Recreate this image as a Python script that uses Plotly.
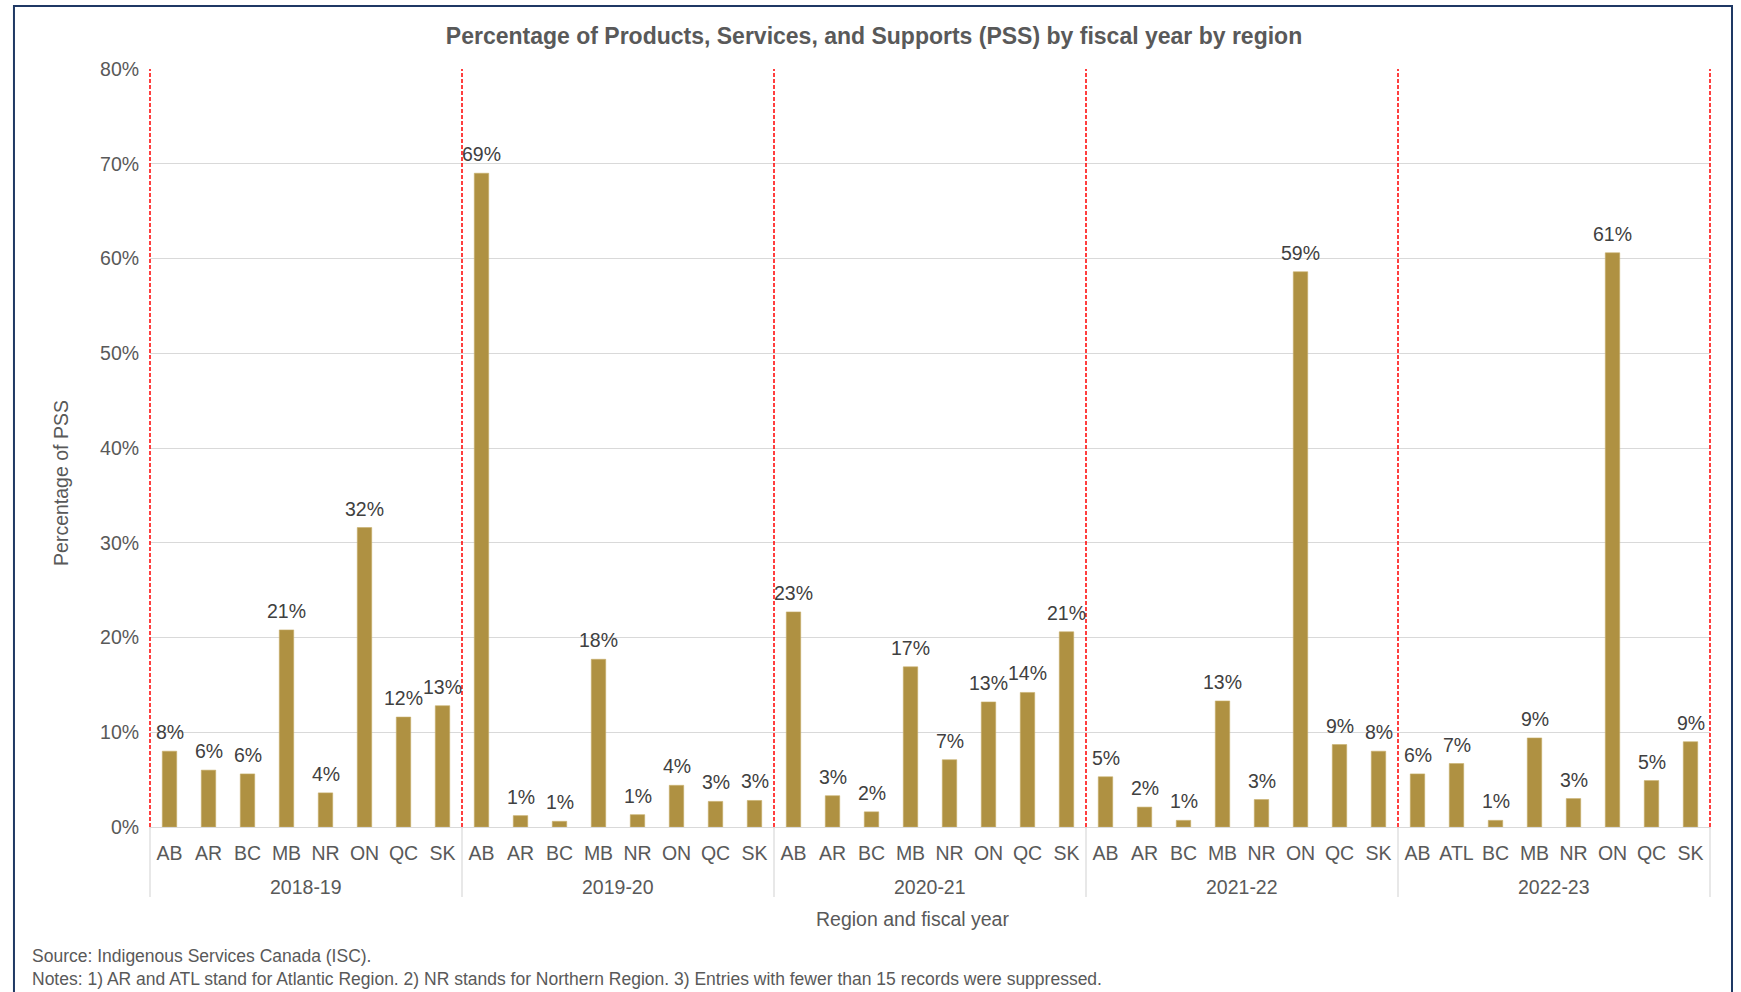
import plotly.graph_objects as go

years = ["2018-19", "2019-20", "2020-21", "2021-22", "2022-23"]
regions_by_year = [
    ["AB", "AR", "BC", "MB", "NR", "ON", "QC", "SK"],
    ["AB", "AR", "BC", "MB", "NR", "ON", "QC", "SK"],
    ["AB", "AR", "BC", "MB", "NR", "ON", "QC", "SK"],
    ["AB", "AR", "BC", "MB", "NR", "ON", "QC", "SK"],
    ["AB", "ATL", "BC", "MB", "NR", "ON", "QC", "SK"],
]
pss_2018_19 = [8.0, 6.0, 5.6, 20.8, 3.6, 31.6, 11.6, 12.8]
pss_2019_20 = [69.0, 1.2, 0.6, 17.7, 1.3, 4.4, 2.7, 2.8]
pss_2020_21 = [22.7, 3.3, 1.6, 16.9, 7.1, 13.2, 14.2, 20.6]
pss_2021_22 = [5.3, 2.1, 0.7, 13.3, 2.9, 58.6, 8.7, 8.0]
pss_2022_23 = [5.6, 6.7, 0.7, 9.4, 3.0, 60.6, 4.9, 9.0]
values_by_year = [pss_2018_19, pss_2019_20, pss_2020_21, pss_2021_22, pss_2022_23]

x_keys, x_text, y_vals = [], [], []
for yr, regs, vals in zip(years, regions_by_year, values_by_year):
    for r, v in zip(regs, vals):
        x_keys.append(f"{yr} {r}")
        x_text.append(r)
        y_vals.append(v)

FONT = "Liberation Sans, Arial, sans-serif"
GREY = "#595959"
FS = 19.5

fig = go.Figure()
fig.add_trace(go.Bar(
    x=x_keys,
    y=y_vals,
    marker=dict(color="#AF9142", line=dict(color="#C8AE6A", width=0.6)),
    cliponaxis=False,
    hoverinfo="x+y",
))

n = len(years)
shapes = []
# red dashed separators at group boundaries
for k in range(n + 1):
    shapes.append(dict(type="line", xref="paper", yref="paper",
                       x0=k / n, x1=k / n, y0=0, y1=1,
                       line=dict(color="#FF0000", width=1.5, dash="4px,2px")))
# grey category-group dividers below the axis
for k in range(n + 1):
    shapes.append(dict(type="line", xref="paper", yref="paper",
                       x0=k / n, x1=k / n, y0=0, y1=-0.0923,
                       line=dict(color="#D9D9D9", width=1.2)))
# outer border
shapes.append(dict(type="rect", xref="paper", yref="paper",
                   x0=-0.0872, x1=1.0141, y0=-0.35, y1=1.0831,
                   line=dict(color="#1F3864", width=2), fillcolor="rgba(0,0,0,0)"))

annotations = [
    dict(text="Percentage of PSS", xref="paper", yref="paper",
         x=-0.057, y=0.454, textangle=-90, showarrow=False,
         xanchor="center", yanchor="middle",
         font=dict(family=FONT, size=FS, color=GREY)),
    dict(text="Region and fiscal year", xref="paper", yref="paper",
         x=0.489, y=-0.121, showarrow=False,
         xanchor="center", yanchor="middle",
         font=dict(family=FONT, size=FS, color=GREY)),
    dict(text="Source: Indigenous Services Canada (ISC).", xref="paper", yref="paper",
         x=-0.0769, y=-0.170, showarrow=False,
         xanchor="left", yanchor="middle",
         font=dict(family=FONT, size=17.5, color=GREY)),
    dict(text="Notes: 1) AR and ATL stand for Atlantic Region. 2) NR stands for Northern Region. 3) Entries with fewer than 15 records were suppressed.",
         xref="paper", yref="paper",
         x=-0.0769, y=-0.2005, showarrow=False,
         xanchor="left", yanchor="middle",
         font=dict(family=FONT, size=17.5, color=GREY)),
]
for k, yr in enumerate(years):
    annotations.append(dict(text=yr, xref="paper", yref="paper",
                            x=(k + 0.5) / n, y=-0.079, showarrow=False,
                            xanchor="center", yanchor="middle",
                            font=dict(family=FONT, size=FS, color=GREY)))
# data labels above bars
for xk, v in zip(x_keys, y_vals):
    annotations.append(dict(text=f"{int(v + 0.5)}%", xref="x", yref="y",
                            x=xk, y=v, showarrow=False,
                            xanchor="center", yanchor="bottom", yshift=6,
                            font=dict(family=FONT, size=FS, color="#404040")))

fig.update_layout(
    width=1741, height=992,
    margin=dict(l=150, r=31, t=69, b=165),
    paper_bgcolor="white", plot_bgcolor="white",
    font=dict(family=FONT, size=FS, color=GREY),
    showlegend=False,
    bargap=0.63,
    title=dict(text="<b>Percentage of Products, Services, and Supports (PSS) by fiscal year by region</b>",
               x=874 / 1741, xref="container", xanchor="center",
               y=1 - 35.5 / 992, yanchor="middle",
               font=dict(family=FONT, size=23, color=GREY)),
    xaxis=dict(type="category", showgrid=False,
               tickmode="array", tickvals=x_keys, ticktext=x_text, tickangle=0,
               showline=True, linecolor="#D9D9D9", linewidth=1,
               ticks="outside", ticklen=9, tickcolor="rgba(0,0,0,0)",
               tickfont=dict(family=FONT, size=FS, color=GREY)),
    yaxis=dict(range=[0, 80], dtick=10, ticksuffix="%",
               showgrid=True, gridcolor="#D9D9D9", gridwidth=1,
               zeroline=False, showline=False, ticks="outside", ticklen=6,
               tickcolor="rgba(0,0,0,0)",
               tickfont=dict(family=FONT, size=FS, color=GREY)),
    shapes=shapes,
    annotations=annotations,
)

fig.write_html("out.html", config={"displayModeBar": False},
               post_script="document.body.style.margin='0px';")
